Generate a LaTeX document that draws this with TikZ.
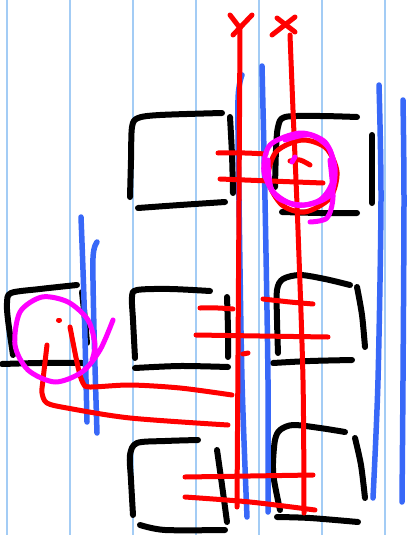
\documentclass[tikz,border=0pt]{standalone}
\usepackage{tikz}
\definecolor{gridblue}{HTML}{A3CCF5}
\definecolor{penblue}{HTML}{3868F8}
\definecolor{penred}{HTML}{FF0000}
\definecolor{penmag}{HTML}{FF00FF}
\tikzset{
  gridline/.style={gridblue, line width=2pt},
  blk/.style={black, line width=6pt, line cap=round, line join=round},
  blu/.style={penblue, line width=5.5pt, line cap=round, line join=round},
  rd/.style={penred, line width=5pt, line cap=round, line join=round},
  mag/.style={penmag, line width=5pt, line cap=round, line join=round},
}
\begin{document}
\begin{tikzpicture}[x=1pt,y=-1pt]
\useasboundingbox (0,0) rectangle (414,535);
\fill[white] (0,0) rectangle (414,535);
% ruled background
\foreach \gx in {6.5,69.5,132.5,196,259,322,385}
  \draw[gridline] (\gx,0) -- (\gx,535);

% black boxes
% box A
\draw[blk] plot[smooth] coordinates {(130,197) (131,160) (132,127) (138,118) (160,115) (222,113)};
\draw[blk] plot[smooth] coordinates {(230,117) (232,155) (233,193)};
\draw[blk] plot[smooth] coordinates {(138,208) (180,205) (225,202)};
% box B
\draw[blk] plot[smooth] coordinates {(275,187) (276,150) (278,127) (285,117) (320,116) (357,117)};
\draw[blk] plot[smooth] coordinates {(372,135) (372,170) (372,203)};
\draw[blk] plot[smooth] coordinates {(282,212) (320,213) (357,213)};
% box C
\draw[blk] plot[smooth] coordinates {(13,355) (8,320) (7,303) (11,293) (40,289) (77,285)};
\draw[blk] plot[smooth] coordinates {(82,292) (85,320) (87,343)};
\draw[blk] plot[smooth] coordinates {(2,364) (40,363) (83,363)};
% box D
\draw[blk] plot[smooth] coordinates {(135,358) (133,320) (132,297) (137,290) (170,289) (210,291)};
\draw[blk] plot[smooth] coordinates {(227,297) (228,330) (228,357)};
\draw[blk] plot[smooth] coordinates {(135,368) (180,366) (228,367)};
% box E
\draw[blk] plot[smooth] coordinates {(278,353) (277,320) (277,290) (283,279) (300,275) (325,279) (350,285)};
\draw[blk] plot[smooth] coordinates {(357,287) (362,315) (365,347)};
\draw[blk] plot[smooth] coordinates {(273,363) (310,361) (352,360)};
% box F
\draw[blk] plot[smooth] coordinates {(133,515) (131,480) (130,455) (137,443) (165,441) (198,440)};
\draw[blk] plot[smooth] coordinates {(217,450) (222,485) (227,522)};
\draw[blk] plot[smooth] coordinates {(140,525) (165,530) (225,530)};
% box G
\draw[blk] plot[smooth] coordinates {(280,510) (274,480) (273,463) (275,440) (280,430) (293,425) (320,428) (345,432)};
\draw[blk] plot[smooth] coordinates {(355,438) (361,465) (365,498)};
\draw[blk] plot[smooth] coordinates {(277,517) (310,518) (358,522)};

% blue lines
\draw[blu] plot[smooth] coordinates {(242,75) (238,100) (239,200) (242,380) (247,517)};
\draw[blu] plot[smooth] coordinates {(262,66) (265,200) (268,380) (268,512)};
\draw[blu] plot[smooth] coordinates {(379,85) (381,200) (378,380) (373,498)};
\draw[blu] plot[smooth] coordinates {(403,100) (404,200) (403,380) (402,502)};
\draw[blu] plot[smooth] coordinates {(81,217) (84,300) (87,422)};
\draw[blu] plot[smooth] coordinates {(97,242) (93,258) (94,330) (97,433)};

% red strokes
\draw[rd] plot[smooth] coordinates {(240,28) (239,200) (237,507)};
\draw[rd] plot[smooth] coordinates {(290,35) (293,110) (298,230) (303,380) (304,513)};
\draw[rd] (230,15) -- (240,28);
\draw[rd] (252,15) -- (233,35);
\draw[rd] (272,35) -- (295,17);
\draw[rd] (277,18) -- (295,32);
% top crossings
\draw[rd] plot[smooth] coordinates {(218,153) (245,153) (266,154)};
\draw[rd] plot[smooth] coordinates {(290,161) (300,160) (310,165)};
\draw[rd] plot[smooth] coordinates {(220,179) (270,181) (323,183)};
\draw[rd] plot[smooth cycle] coordinates {(302,140) (326,148) (337,172) (330,198) (305,212) (282,205) (268,180) (276,152)};
% middle crossings
\draw[rd] plot[smooth] coordinates {(200,308) (218,308) (233,309)};
\draw[rd] plot[smooth] coordinates {(196,335) (260,336) (328,337)};
\draw[rd] plot[smooth] coordinates {(263,299) (290,302) (313,304)};
\draw[rd] (243,354) -- (248,353);
% from box C
\draw[rd] plot[smooth] coordinates {(70,327) (78,367) (83,383) (90,387) (130,385) (180,388) (232,395)};
\draw[rd] plot[smooth] coordinates {(47,345) (43,380) (42,393) (47,403) (67,408) (130,418) (228,425)};
\draw[rd] (58.5,320) -- (59.5,320);
% bottom crossings
\draw[rd] plot[smooth] coordinates {(185,477) (250,476) (313,475)};
\draw[rd] plot[smooth] coordinates {(185,497) (250,502) (315,510)};

% magenta scribbles
\draw[mag] plot[smooth cycle] coordinates {(300,133) (325,142) (335,168) (330,195) (305,205) (278,198) (264,172) (270,145)};
\draw[mag] plot[smooth] coordinates {(285,140) (310,135) (330,150) (333,180) (320,200) (295,205) (272,190) (268,160)};
\draw[mag] plot[smooth] coordinates {(330,160) (333,197) (327,218) (310,222)};
\draw[mag] (292,162) -- (295,157);
\draw[mag] plot[smooth] coordinates {(113,320) (100,350) (82,372) (55,382) (28,370) (15,345) (20,312) (42,297) (68,302) (88,320) (95,345) (92,360)};
\end{tikzpicture}
\end{document}
